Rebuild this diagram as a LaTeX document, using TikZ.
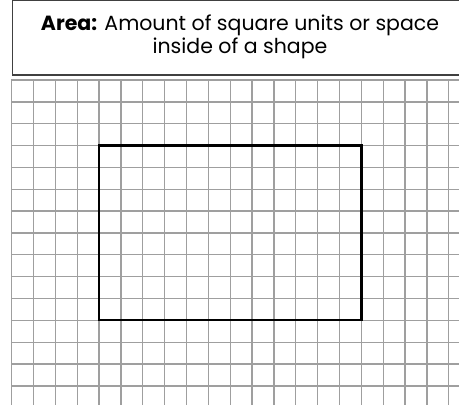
\documentclass[tikz,border=0pt]{standalone}
\usepackage{fontspec}
\setmainfont{Poppins}
\usepackage{xcolor}

\begin{document}
\begin{tikzpicture}[x=1pt,y=-1pt]
\tikzstyle{every node}+=[inner sep=0pt]
\tikzstyle{gridline}=[draw=gray!75,line width=1.3pt]
\useasboundingbox (0,0) rectangle (459,405);
% heading box
\draw [black!75,line width=1.2pt] (12.5,-5) -- (12.5,75) -- (465,75);
\draw [black!75,line width=1.2pt] (12.5,0.6) -- (465,0.6);
\node (title) at (240,37) [align=center,font=\fontsize{20.5}{23.5}\selectfont]
  {\textbf{Area:} Amount of square units or space\\inside of a shape};
% grid
\foreach \i in {0,...,20}
  \draw [gridline] (11.7+21.85*\i,79) -- (11.7+21.85*\i,410);
\foreach \j in {0,...,14}
  \draw [gridline] (11.1,80+21.85*\j) -- (465,80+21.85*\j);
% the shape
\draw [black,line width=2.4pt] (99.1,145.6) rectangle (361.3,320);
\end{tikzpicture}
\end{document}
